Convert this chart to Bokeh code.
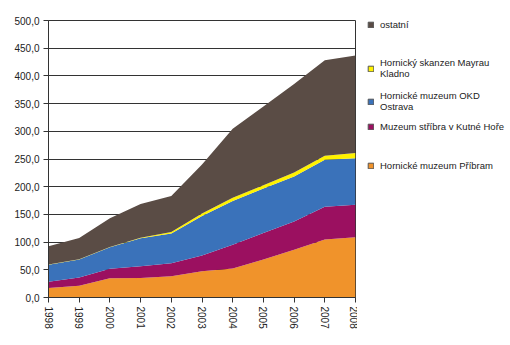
from bokeh.plotting import figure
from bokeh.layouts import row
from bokeh.models import (ColumnDataSource, Legend, LegendItem, CustomJSTickFormatter,
                          FixedTicker, Range1d)
from bokeh.embed import file_html
from bokeh.resources import INLINE

years = [1998, 1999, 2000, 2001, 2002, 2003, 2004, 2005, 2006, 2007, 2008]
pribram = [17.0, 21.0, 34.6, 35.0, 38.2, 47.3, 52.2, 68.6, 86.3, 104.5, 108.7]
stribro = [11.6, 15.0, 17.1, 21.4, 23.8, 28.7, 43.2, 47.9, 50.9, 59.3, 58.8]
ostrava = [30.4, 32.6, 38.8, 50.4, 53.4, 71.0, 78.8, 80.1, 81.2, 85.0, 83.7]
kladno = [0.5, 0.5, 0.5, 1.0, 2.9, 4.8, 6.0, 6.1, 7.3, 7.2, 9.8]
ostatni = [33.0, 38.4, 52.2, 61.0, 65.0, 88.2, 124.5, 142.0, 159.6, 172.4, 175.8]

series = ["pribram", "stribro", "ostrava", "kladno", "ostatni"]
labels = ["Hornické muzeum Příbram", "Muzeum stříbra v Kutné Hoře",
          "Hornické muzeum OKD\nOstrava", "Hornický skanzen Mayrau\nKladno", "ostatní"]
colors = ["#F0932B", "#9B1060", "#3A72BA", "#FFF200", "#5A4C45"]
y_ticks = [0, 50, 100, 150, 200, 250, 300, 350, 400, 450, 500]

# legend layout (screen offsets from bottom-left of legend frame), same order as series
legend_offsets = [(10, 126), (10, 165), (10, 185), (10, 218), (10, 267)]

src = ColumnDataSource(dict(year=years, pribram=pribram, stribro=stribro,
                            ostrava=ostrava, kladno=kladno, ostatni=ostatni))

FONT = "Liberation Sans"

p = figure(width=357, height=345, output_backend="svg", toolbar_location=None,
           x_range=Range1d(1998, 2008), y_range=Range1d(0, 500),
           min_border_left=48, min_border_right=2, min_border_top=20, min_border_bottom=48)

rs = p.varea_stack(stackers=series, x="year", color=colors, source=src)

p.xgrid.visible = False
p.ygrid.grid_line_color = "#333333"
p.ygrid.grid_line_width = 1
p.outline_line_color = "#333333"
p.outline_line_width = 1

p.yaxis.ticker = FixedTicker(ticks=y_ticks)
p.yaxis.formatter = CustomJSTickFormatter(code="return tick.toFixed(1).replace('.', ',');")
p.xaxis.ticker = FixedTicker(ticks=years)
p.xaxis.major_label_orientation = "vertical"

for ax in (p.xaxis[0], p.yaxis[0]):
    ax.axis_line_color = "#333333"
    ax.major_tick_line_color = "#333333"
    ax.major_tick_in = 0
    ax.major_tick_out = 5
    ax.minor_tick_line_color = None
    ax.major_label_text_font = FONT
    ax.major_label_text_font_size = "10px"
    ax.major_label_text_color = "#222222"
    ax.major_label_standoff = 4

# legend panel (swatch renderers lie outside its ranges, only their legend glyphs show)
lp = figure(width=153, height=345, output_backend="svg", toolbar_location=None,
            x_range=Range1d(0, 1), y_range=Range1d(0, 1),
            min_border=0, min_border_left=0, min_border_right=0,
            min_border_top=0, min_border_bottom=0)
lp.axis.visible = False
lp.grid.visible = False
lp.outline_line_color = None

sw = lp.vbar_stack(stackers=series, x="year", width=0.5, color=colors,
                   line_color="#555555", line_width=1, source=src)

for i in range(5):
    lg = Legend(items=[LegendItem(label=labels[i], renderers=[sw[i]])],
                location=legend_offsets[i], border_line_color=None,
                background_fill_alpha=0, label_text_font=FONT,
                label_text_font_size="9.5px", label_text_color="#222222",
                label_text_line_height=1.5, label_height=10,
                glyph_width=7, glyph_height=7, padding=0, margin=0,
                label_standoff=6)
    lp.add_layout(lg)

layout = row(p, lp)
open("out.html", "w").write(file_html(layout, INLINE))
